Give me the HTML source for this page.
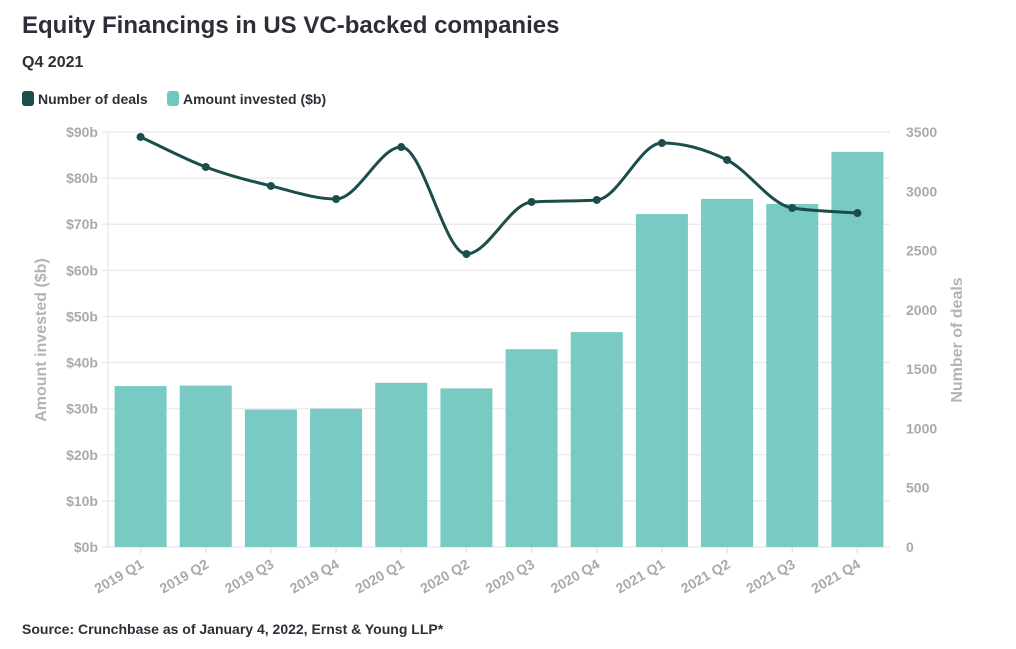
<!DOCTYPE html>
<html><head><meta charset="utf-8"><style>
body{margin:0;background:#fff;font-family:"Liberation Sans",sans-serif;}
svg text{font-family:"Liberation Sans",sans-serif;}
</style></head><body>
<svg width="1016" height="644" xmlns="http://www.w3.org/2000/svg">
<text x="22" y="33" font-size="24" font-weight="bold" fill="#2e2e38">Equity Financings in US VC-backed companies</text>
<text x="22" y="67" font-size="16" font-weight="bold" fill="#2e2e38">Q4 2021</text>
<g>
<rect x="22" y="91" width="12" height="15" rx="3" fill="#1b4d4b"/>
<text x="38" y="104" font-size="14" font-weight="bold" fill="#2e2e38">Number of deals</text>
<rect x="167" y="91" width="12" height="15" rx="3" fill="#6fc8c0"/>
<text x="183" y="104" font-size="14" font-weight="bold" fill="#2e2e38">Amount invested ($b)</text>
</g>
<g id="grid"></g><g id="bars"></g><g id="line"></g><g id="axes"></g>
<text transform="translate(46,340) rotate(-90)" text-anchor="middle" font-size="16" font-weight="bold" fill="#b3b3b3">Amount invested ($b)</text>
<text transform="translate(962,340) rotate(-90)" text-anchor="middle" font-size="16" font-weight="bold" fill="#b3b3b3">Number of deals</text>
<text x="22" y="634" font-size="14" font-weight="bold" fill="#2e2e38">Source: Crunchbase as of January 4, 2022, Ernst &amp; Young LLP*</text>
</svg>
<script>
const categories=["2019 Q1","2019 Q2","2019 Q3","2019 Q4","2020 Q1","2020 Q2","2020 Q3","2020 Q4","2021 Q1","2021 Q2","2021 Q3","2021 Q4"];
const amounts=[34.9,35.0,29.8,30.0,35.6,34.4,42.9,46.6,72.2,75.5,74.4,85.7];
const deals=[3458,3205,3045,2935,3373,2471,2910,2927,3407,3264,2859,2817];
const leftTicks=[0,10,20,30,40,50,60,70,80,90];
const rightTicks=[0,500,1000,1500,2000,2500,3000,3500];
const NS="http://www.w3.org/2000/svg";
const X0=108,X1=890,Y0=547,Y1=132;
const step=(X1-X0)/categories.length;
const xc=i=>X0+step*(i+0.5);
const yL=v=>Y0-(v/90)*(Y0-Y1);
const yR=v=>Y0-(v/3500)*(Y0-Y1);
function mk(tag,attrs,parent){const e=document.createElementNS(NS,tag);for(const k in attrs)e.setAttribute(k,attrs[k]);document.getElementById(parent).appendChild(e);return e;}
leftTicks.forEach(v=>{
 const l=mk("line",{x1:X0-6,x2:X1,y1:yL(v),y2:yL(v),stroke:"#ececec","stroke-width":1.5},"grid");
 
 
 const t=mk("text",{x:X0-10,y:yL(v)+5,"text-anchor":"end","font-size":14,"font-weight":"bold",fill:"#aaaaaa"},"axes");
 t.textContent="$"+v+"b";
 
 
});
rightTicks.forEach(v=>{
 const t=mk("text",{x:X1+16,y:yR(v)+5,"text-anchor":"start","font-size":14,"font-weight":"bold",fill:"#aaaaaa"},"axes");
 t.textContent=v;
 
 
});
const ax=mk("line",{x1:X0,x2:X0,y1:Y1,y2:Y0,stroke:"#ececec","stroke-width":1.5},"grid");


const bw=52;
amounts.forEach((v,i)=>{
 const r=mk("rect",{x:xc(i)-bw/2,y:yL(v),width:bw,height:Y0-yL(v),fill:"#79cac3"},"bars");
 
 
 const tk=mk("line",{x1:xc(i),x2:xc(i),y1:Y0,y2:Y0+6,stroke:"#e4e4e4","stroke-width":1.5},"axes");
 
 
 const t=mk("text",{x:xc(i)+4,y:Y0+20,"text-anchor":"end","font-size":14,"font-weight":"bold",fill:"#aaaaaa",transform:`rotate(-30 ${xc(i)+4} ${Y0+20})`},"axes");
 t.textContent=categories[i];
 
 
});
// monotone-x cubic
const pts=deals.map((v,i)=>[xc(i),yR(v)]);
const n=pts.length;
const sl=[];for(let i=0;i<n-1;i++)sl.push((pts[i+1][1]-pts[i][1])/(pts[i+1][0]-pts[i][0]));
const tg=[];
for(let i=0;i<n;i++){
 if(i===0)tg.push(sl[0]);else if(i===n-1)tg.push(sl[n-2]);
 else{const a=sl[i-1],b=sl[i];if(a*b<=0)tg.push(0);else{const h=step;tg.push((Math.sign(a)+Math.sign(b))*Math.min(Math.abs(a),Math.abs(b),0.5*Math.abs((a+b)/2)));}}
}
let d="M"+pts[0][0]+","+pts[0][1];
for(let i=0;i<n-1;i++){
 const h=(pts[i+1][0]-pts[i][0])/3;
 d+=` C${pts[i][0]+h},${pts[i][1]+h*tg[i]} ${pts[i+1][0]-h},${pts[i+1][1]-h*tg[i+1]} ${pts[i+1][0]},${pts[i+1][1]}`;
}
const path=mk("path",{d:d,fill:"none",stroke:"#1b4d4b","stroke-width":3},"line");


pts.forEach((p,i)=>{
 const c=mk("circle",{cx:p[0],cy:p[1],r:4,fill:"#1b4d4b"},"line");
 
 
});
</script>
</body></html>
